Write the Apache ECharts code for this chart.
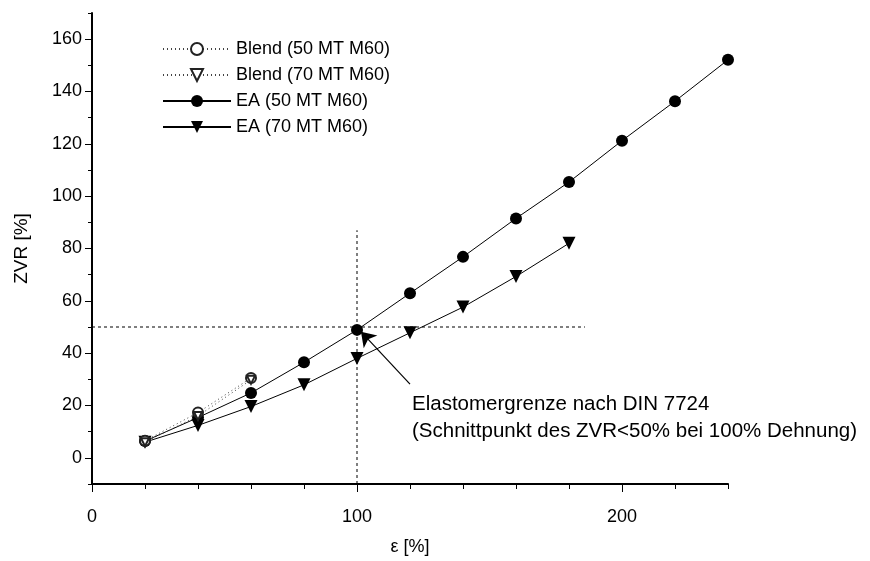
<!DOCTYPE html>
<html><head><meta charset="utf-8">
<script src="https://cdn.jsdelivr.net/npm/echarts@6/dist/echarts.min.js"></script>
<style>html,body{margin:0;padding:0;background:#fff}#c{width:870px;height:561px}</style>
</head><body><div id="c"></div>
<script>
// ---- data ----
const strainBlend = [20, 40, 60];
const zvrBlend50 = [6.5, 17.3, 30.5];
const zvrBlend70 = [6.0, 16.0, 29.8];
const strainEA50 = [20, 40, 60, 80, 100, 120, 140, 160, 180, 200, 220, 240];
const zvrEA50 = [6.4, 15.4, 24.8, 36.5, 48.9, 62.9, 76.8, 91.5, 105.4, 121.2, 136.3, 152.1];
const strainEA70 = [20, 40, 60, 80, 100, 120, 140, 160, 180];
const zvrEA70 = [6.0, 12.4, 19.6, 27.9, 38.0, 47.8, 57.6, 69.3, 82.0];
const xTickLabels = [0, 100, 200];
const yTickLabels = [0, 20, 40, 60, 80, 100, 120, 140, 160];
const refVertical = [[100, -10], [100, 87]];
const refHorizontal = [[0, 50], [186, 50]];
const arrowFrom = [120, 28.2];
const arrowTo = [101.5, 48.2];
const seriesNames = ['Blend (50 MT M60)', 'Blend (70 MT M60)', 'EA (50 MT M60)', 'EA (70 MT M60)'];
const annotationLines = ['Elastomergrenze nach DIN 7724', '(Schnittpunkt des ZVR<50% bei 100% Dehnung)'];

const zip = (xs, ys) => xs.map((x, i) => [x, ys[i]]);
const FONT = 'Liberation Sans, Arial, sans-serif';

const chart = echarts.init(document.getElementById('c'));
chart.setOption({
  animation: false,
  backgroundColor: '#fff',
  textStyle: { fontFamily: FONT },
  grid: { left: 92, right: 142, top: 13, bottom: 70 },
  legend: {
    data: seriesNames,
    orient: 'vertical',
    left: 157, top: 35,
    itemWidth: 68, itemHeight: 15, itemGap: 8,
    textStyle: { fontSize: 18, color: '#000', fontFamily: FONT }
  },
  xAxis: [
    {
      type: 'value', min: 0, max: 240, interval: 20, position: 'bottom',
      name: 'ε [%]', nameLocation: 'middle', nameGap: 54,
      nameTextStyle: { fontSize: 18, color: '#000', fontFamily: FONT },
      axisLine: { onZero: false, lineStyle: { color: '#000', width: 2 } },
      axisTick: { length: 5, lineStyle: { color: '#000', width: 1 } },
      axisLabel: { show: false },
      splitLine: { show: false }
    },
    {
      type: 'value', min: 0, max: 240, position: 'bottom',
      axisLine: { show: false, onZero: false },
      axisTick: { show: true, customValues: xTickLabels, length: 8, lineStyle: { color: '#000', width: 1 } },
      axisLabel: { customValues: xTickLabels, fontSize: 18, color: '#000', margin: 24, fontFamily: FONT },
      splitLine: { show: false }
    }
  ],
  yAxis: [
    {
      type: 'value', min: -10, max: 170, interval: 10, position: 'left',
      name: 'ZVR [%]', nameLocation: 'middle', nameGap: 61,
      nameTextStyle: { fontSize: 19, color: '#000', fontFamily: FONT },
      axisLine: { onZero: false, lineStyle: { color: '#000', width: 2 } },
      axisTick: { length: 4, lineStyle: { color: '#000', width: 1 } },
      axisLabel: { show: false },
      splitLine: { show: false }
    },
    {
      type: 'value', min: -10, max: 170, position: 'left',
      axisLine: { show: false, onZero: false },
      axisTick: { show: true, customValues: yTickLabels, length: 7, lineStyle: { color: '#000', width: 1 } },
      axisLabel: { customValues: yTickLabels, fontSize: 18, color: '#000', margin: 10, fontFamily: FONT },
      splitLine: { show: false }
    }
  ],
  graphic: annotationLines.map((t, i) => ({
    type: 'text', left: 412, top: 394 + i * 27,
    style: { text: t, font: '20.5px ' + FONT, fill: '#000' }
  })),
  series: [
    {
      name: 'ref', type: 'line', data: refVertical, symbol: 'none', silent: true,
      lineStyle: { color: '#000', width: 1, type: [3, 3] }, z: 1
    },
    {
      name: 'ref2', type: 'line', data: refHorizontal, symbol: 'none', silent: true,
      lineStyle: { color: '#000', width: 1, type: [3, 3] }, z: 1,
      markLine: {
        silent: true, symbol: ['none', 'arrow'], symbolSize: 14,
        lineStyle: { color: '#000', width: 1.2, type: 'solid' },
        label: { show: false },
        data: [[{ coord: arrowFrom }, { coord: arrowTo }]]
      }
    },
    {
      name: seriesNames[2], type: 'line', data: zip(strainEA50, zvrEA50),
      symbol: 'circle', symbolSize: 12,
      itemStyle: { color: '#000' }, lineStyle: { color: '#000', width: 1 }, z: 3
    },
    {
      name: seriesNames[3], type: 'line', data: zip(strainEA70, zvrEA70),
      symbol: 'triangle', symbolRotate: 180, symbolSize: 13,
      itemStyle: { color: '#000' }, lineStyle: { color: '#000', width: 1 }, z: 3
    },
    {
      name: seriesNames[0], type: 'line', data: zip(strainBlend, zvrBlend50),
      symbol: 'emptyCircle', symbolSize: 10,
      itemStyle: { color: '#222', borderWidth: 1 }, lineStyle: { color: '#444', width: 1, type: [1, 3] }, z: 4
    },
    {
      name: seriesNames[1], type: 'line', data: zip(strainBlend, zvrBlend70),
      symbol: 'emptyTriangle', symbolRotate: 180, symbolSize: 8,
      itemStyle: { color: '#222', borderWidth: 1 }, lineStyle: { color: '#444', width: 1, type: [1, 3] }, z: 4
    }
  ]
});
</script></body></html>
